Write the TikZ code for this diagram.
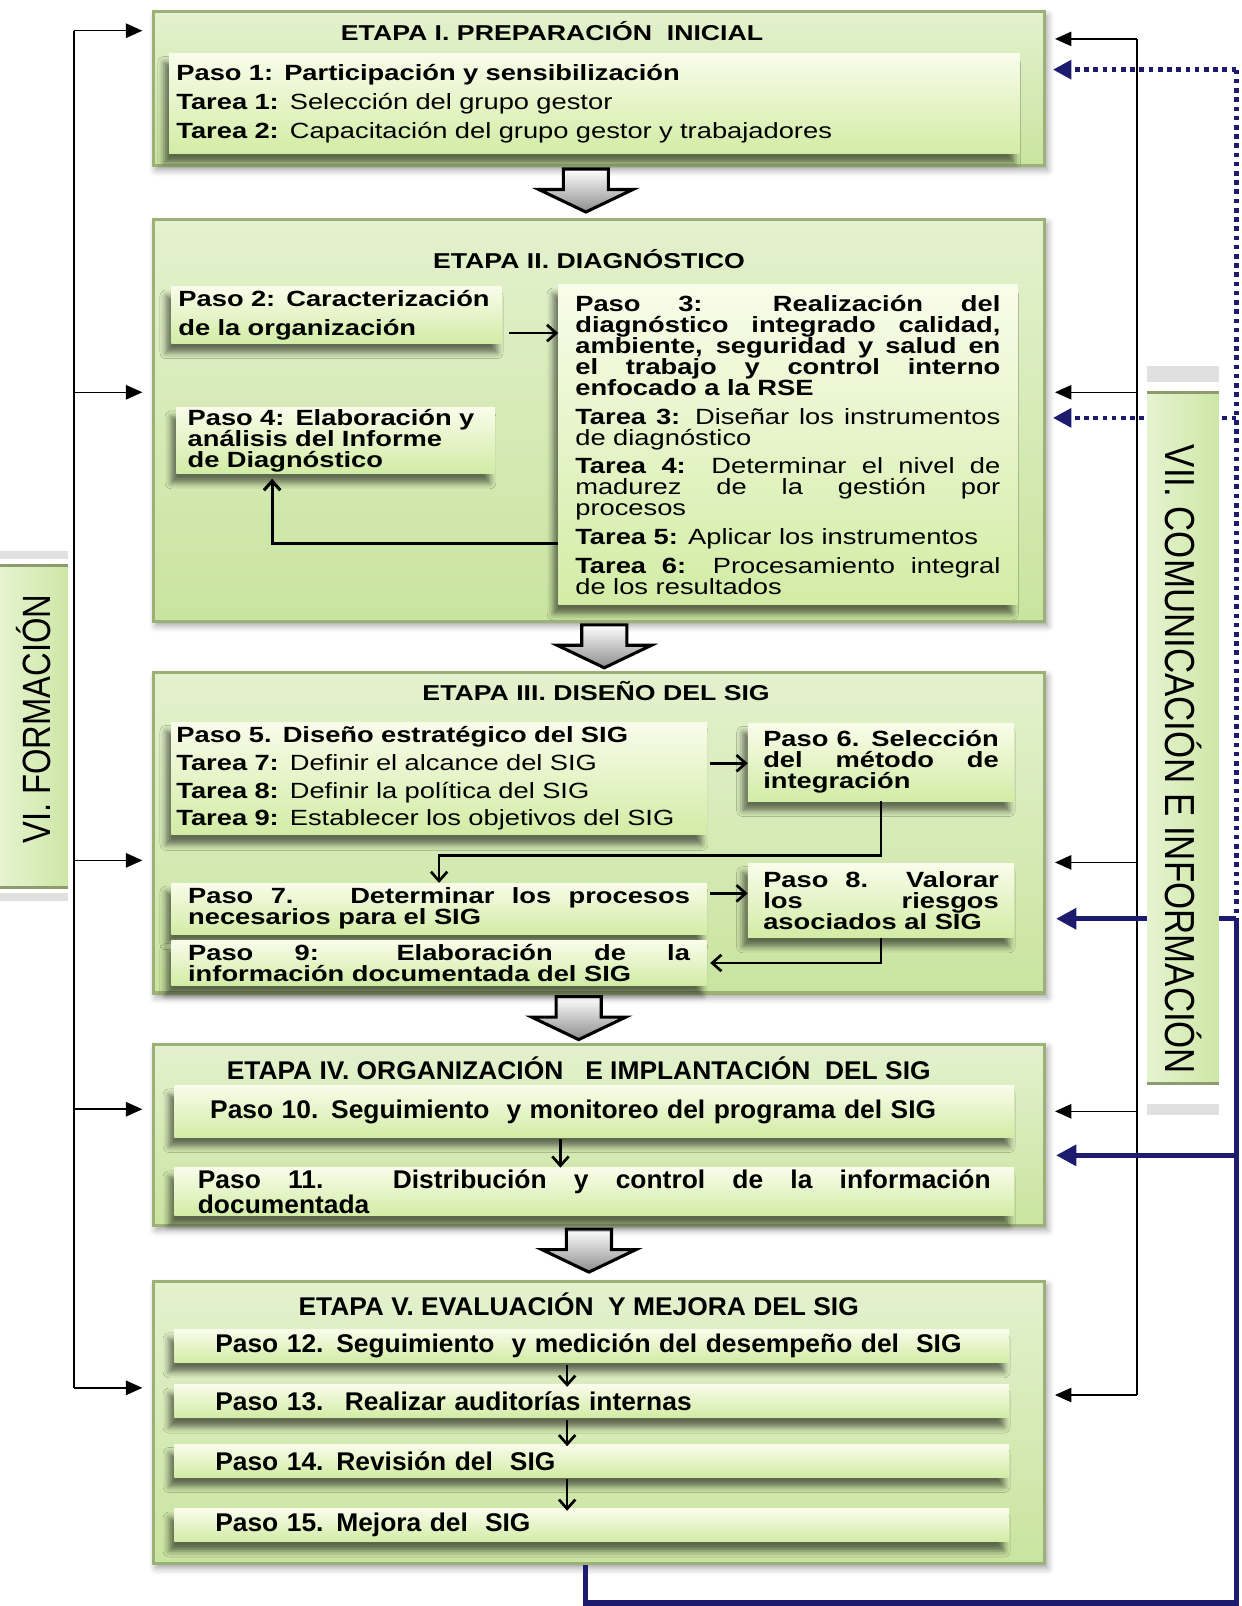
\documentclass[tikz,border=0pt]{standalone}
\usepackage{fontspec}
\usepackage{graphicx}
\setmainfont{Liberation Sans}
\newfontfamily\widefont[FakeStretch=1.24]{Liberation Sans}
\newfontfamily\narrowfont[FakeStretch=1.03]{Liberation Sans}
\newfontfamily\sidefont[FakeStretch=0.83]{Liberation Sans}
\usetikzlibrary{arrows.meta,calc,shadows.blur}
\setlength{\parindent}{0pt}
\setlength{\lineskiplimit}{-50pt}

\definecolor{stageline}{HTML}{9CB177}
\definecolor{stagetop}{HTML}{E3F1CD}
\definecolor{stagebot}{HTML}{C9E4A0}
\definecolor{steptop}{HTML}{F9FCEA}
\definecolor{stepbot}{HTML}{D2ECA5}
\definecolor{sidetop}{HTML}{E6F3D0}
\definecolor{sidebot}{HTML}{CDE7A6}
\definecolor{sideedge}{HTML}{8C9C6E}
\definecolor{navy}{HTML}{1C1B6E}

\tikzset{
  stage/.style={anchor=north west, draw=stageline, line width=3pt,
    top color=stagetop, bottom color=stagebot, minimum width=870pt, inner sep=0pt,
    blur shadow={shadow xshift=3pt, shadow yshift=-4pt, shadow blur radius=7pt, shadow opacity=40}},
  stagetitle/.style={inner sep=0pt, font=\widefont\bfseries\fontsize{21}{24}\selectfont},
  lowtitle/.style={stagetitle, font=\narrowfont\bfseries\fontsize{25}{26}\selectfont},
  stepbox/.style={anchor=north west, top color=steptop, bottom color=stepbot,
    inner ysep=0pt, align=justify,
    blur shadow={shadow xshift=-5pt, shadow yshift=-9pt, shadow blur radius=6pt, shadow opacity=55},
    font=\widefont\fontsize{21.5}{20.5}\selectfont},
  lowbox/.style={stepbox, font=\narrowfont\bfseries\fontsize{25}{20}\selectfont},
  sidebox/.style={inner sep=0pt, left color=sidetop, right color=sidebot},
  sideband/.style={draw=sideedge, line width=3pt},
  sidetext/.style={inner sep=0pt, font=\sidefont\fontsize{40}{44}\selectfont},
  blockarrow/.style={draw=black, line width=3pt, line join=miter, top color=white, bottom color=black!45},
  flow/.style={line width=1.5pt, -{Triangle[length=16pt,width=14pt]}, shorten >=9pt},
  steparrow/.style={line width=2.6pt, -{Straight Barb[length=9pt,width=16pt]}},
  navyline/.style={draw=navy, line width=5pt, line join=miter},
  navyarrow/.style={navyline, -{Triangle[length=20pt,width=20pt]}, shorten >=10pt},
  dotline/.style={draw=navy, line width=4.5pt, dash pattern=on 4.5pt off 4.5pt},
  dotarrow/.style={dotline, -{Triangle[length=18pt,width=18pt]}, shorten >=7pt},
  downarrow/.pic={\path[blockarrow] (-22,0) -- (22,0) -- (22,20) -- (46,20) -- (0,42)
    -- (-46,20) -- (-22,20) -- cycle;}
}

\begin{document}
\begin{tikzpicture}[x=1pt,y=-1pt]
\useasboundingbox (0,0) rectangle (1212,1568);

% etapas
\node[stage, minimum height=150pt] (e1) at (148,10) {};
\node[stage, minimum height=392pt] (e2) at (148,213) {};
\node[stage, minimum height=313pt] (e3) at (148,655) {};
\node[stage, minimum height=177pt] (e4) at (148,1018) {};
\node[stage, minimum height=275pt] (e5) at (148,1250) {};

\node[stagetitle] (t1) at (539,30) {ETAPA I. PREPARACIÓN~ INICIAL};
\node[stagetitle] (t2) at (575,253) {ETAPA II. DIAGNÓSTICO};
\node[stagetitle] (t3) at (582,675) {ETAPA III. DISEÑO DEL SIG};
\node[lowtitle] (t4) at (565,1043) {ETAPA IV. ORGANIZACIÓN~~ E IMPLANTACIÓN~ DEL SIG};
\node[lowtitle] (t5) at (565,1273) {ETAPA V. EVALUACIÓN~ Y MEJORA DEL SIG};

\pic at (572,165) {downarrow};
\pic at (590,610) {downarrow};
\pic at (565,973) {downarrow};
\pic at (575,1200) {downarrow};

% etapa I
\node[stepbox, align=left, text width=816pt, inner xsep=7pt, minimum height=98pt,
  font=\widefont\fontsize{21.5}{28}\selectfont] (p1) at (165,52)
  {\textbf{Paso 1: Participación y sensibilización}\\
   \textbf{Tarea 1:} Selección del grupo gestor\\
   \textbf{Tarea 2:} Capacitación del grupo gestor y trabajadores};

% etapa II
\node[stepbox, align=left, text width=309pt, inner xsep=7pt, minimum height=55pt,
  font=\widefont\bfseries\fontsize{21.5}{28}\selectfont] (p2) at (167,280)
  {Paso 2: Caracterización\\ de la organización};
\node[stepbox, text width=415pt, inner xsep=16.5pt, minimum height=312pt] (p3) at (545,278)
  {\parskip=7.5pt
   \textbf{Paso 3: Realización del\linebreak diagnóstico integrado calidad,\linebreak
   ambiente, seguridad y salud en\linebreak el trabajo y control interno\linebreak
   enfocado a la RSE}\par
   \textbf{Tarea 3:} Diseñar los instrumentos\linebreak de diagnóstico\par
   \textbf{Tarea 4:} Determinar el nivel de\linebreak madurez de la gestión por\linebreak procesos\par
   \textbf{Tarea 5:} Aplicar los instrumentos\par
   \textbf{Tarea 6:} Procesamiento integral\linebreak de los resultados};
\node[stepbox, align=left, text width=289pt, inner xsep=11pt, minimum height=64pt,
  font=\widefont\bfseries\fontsize{21.5}{20.5}\selectfont] (p4) at (172,398)
  {Paso 4: Elaboración y\\ análisis del Informe\\ de Diagnóstico};

\coordinate (c23) at ($(p2.east)+(7,17.5)$);
\draw[steparrow] (c23) -- (c23 -| p3.west);
\coordinate (c34) at ($(p4.south)+(-62,0)$);
\draw[steparrow, line width=3pt, shorten >=5pt] ($(p3.west)+(0,96)$) -| (c34);

% etapa III
\node[stepbox, align=left, text width=513pt, inner xsep=5pt, minimum height=110pt,
  font=\widefont\fontsize{21.5}{27}\selectfont] (p5) at (167,705)
  {\textbf{Paso 5. Diseño estratégico del SIG}\\
   \textbf{Tarea 7:} Definir el alcance del SIG\\
   \textbf{Tarea 8:} Definir la política del SIG\\
   \textbf{Tarea 9:} Establecer los objetivos del SIG};
\node[stepbox, text width=230pt, inner xsep=15pt, minimum height=76pt] (p6) at (730,706)
  {\textbf{Paso 6. Selección\linebreak del método de\linebreak integración}};
\node[stepbox, text width=490pt, inner xsep=16.5pt, minimum height=50pt] (p7) at (167,862)
  {\textbf{Paso 7.~ Determinar los procesos\linebreak necesarios para el SIG}};
\node[stepbox, text width=230pt, inner xsep=15pt, minimum height=72pt] (p8) at (730,843)
  {\textbf{Paso 8. Valorar\linebreak los riesgos\linebreak asociados al SIG}};
\node[stepbox, text width=490pt, inner xsep=16.5pt, minimum height=44pt] (p9) at (167,918)
  {\textbf{Paso 9: Elaboración de la\linebreak información documentada del SIG}};

\coordinate (c56) at ($(p5.east)+(3,-15)$);
\draw[steparrow] (c56) -- (c56 -| p6.west);
\draw[steparrow] (p6.south) -- ++(0,53) -| (p7.north);
\coordinate (c78) at ($(p7.east)+(3,-15)$);
\draw[steparrow] (c78) -- (c78 -| p8.west);
\draw[steparrow] (p8.south) |- ([xshift=3pt]p9.east);

% etapa IV
\node[lowbox, align=left, text width=750pt, inner xsep=35pt, minimum height=50pt] (p10) at (170,1060)
  {Paso 10. Seguimiento~ y monitoreo del programa del SIG};
\node[lowbox, text width=774pt, inner xsep=23pt, minimum height=47pt] (p11) at (170,1140)
  {Paso 11. Distribución y control de la información\linebreak documentada};
\draw[steparrow] ($(p10.south)+(-33,2)$) -- ($(p11.north)+(-33,0)$);

% etapa V
\node[lowbox, align=left, text width=735pt, inner xsep=40pt, minimum height=32pt] (p12) at (170,1298)
  {Paso 12. Seguimiento~ y medición del desempeño del~ SIG};
\node[lowbox, align=left, text width=735pt, inner xsep=40pt, minimum height=32pt] (p13) at (170,1352)
  {Paso 13.~ Realizar auditorías internas};
\node[lowbox, align=left, text width=735pt, inner xsep=40pt, minimum height=32pt] (p14) at (170,1410)
  {Paso 14. Revisión del~ SIG};
\node[lowbox, align=left, text width=735pt, inner xsep=40pt, minimum height=32pt] (p15) at (170,1473)
  {Paso 15. Mejora del~ SIG};
\foreach \a/\b in {p12/p13,p13/p14,p14/p15}
  \draw[steparrow] ($(\a.south)+(-24,2)$) -- ($(\b.north)+(-24,2)$);

% formacion (izquierda)
\foreach \y [count=\i] in {30,383,840,1083,1355}
  \coordinate (l\i) at (72,\y);
\draw[line width=1.5pt] (l1) -- (l5);
\foreach \i in {1,...,5}
  \draw[flow] (l\i) -- (l\i -| e\i.west);

% comunicacion (derecha)
\foreach \y [count=\i] in {38,383,842,1085,1362}
  \coordinate (r\i) at (1110,\y);
\draw[line width=1.5pt] (r1) -- (r5);
\foreach \i in {1,...,5}
  \draw[flow] (r\i) -- (r\i -| e\i.east);

\coordinate (d1) at (1207,68);
\coordinate (d2) at (1207,408);
\coordinate (n3) at (1207,897);
\coordinate (n4) at (1207,1128);
\draw[dotline] (d1) -- (n3);
\draw[dotarrow] (d1) -- (d1 -| e1.east);
\draw[dotarrow] (d2) -- (d2 -| e2.east);
\draw[navyline] ([xshift=-13pt]e5.south) -- ++(0,37) -| (n3);
\draw[navyarrow] (n3) -- (n3 -| e3.east);
\draw[navyarrow] (n4) -- (n4 -| e4.east);

% cajas laterales
\node[sidebox, minimum width=66pt, minimum height=314pt] (vi) at (33,709) {};
\fill[black!12] ($(vi.north west)+(0,-14)$) rectangle ($(vi.north east)+(0,-6)$);
\fill[black!12] ($(vi.south west)+(0,6)$) rectangle ($(vi.south east)+(0,13)$);
\draw[sideband] (vi.north west) -- (vi.north east) (vi.south west) -- (vi.south east);
\node[sidetext, rotate=90, font=\sidefont\fontsize{38.5}{42}\selectfont] (vilabel)
  at ($(vi.center)+(0,-7)$) {VI. FORMACIÓN};

\node[sidebox, minimum width=70pt, minimum height=675pt] (vii) at (1155,720.5) {};
\fill[black!12] ($(vii.north west)+(0,-25)$) rectangle ($(vii.north east)+(0,-10)$);
\fill[black!12] ($(vii.south west)+(0,20)$) rectangle ($(vii.south east)+(0,30)$);
\draw[sideband] (vii.north west) -- (vii.north east) (vii.south west) -- (vii.south east);
\node[sidetext, rotate=-90, font=\sidefont\fontsize{41}{44}\selectfont] (viilabel)
  at ($(vii.center)+(0,21)$) {VII. COMUNICACIÓN E INFORMACIÓN};
\end{tikzpicture}
\end{document}
